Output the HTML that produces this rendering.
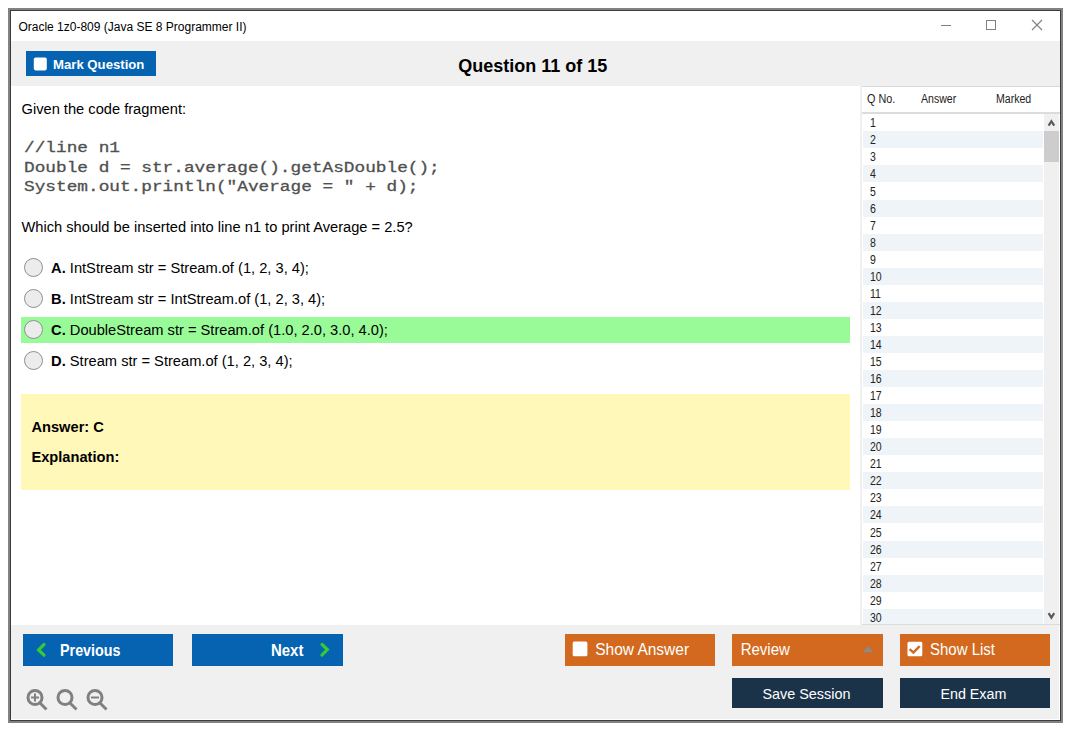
<!DOCTYPE html>
<html><head><meta charset="utf-8">
<style>
*{margin:0;padding:0;box-sizing:border-box}
html,body{width:1075px;height:735px;overflow:hidden;background:#fff;font-family:"Liberation Sans",sans-serif}
.a{position:absolute}
.t{position:absolute;white-space:pre;line-height:1}
</style></head><body>
<div class="a" style="left:8px;top:8px;width:1055px;height:715px;background:#828282;"></div>
<div class="a" style="left:10px;top:10px;width:1051px;height:711px;background:#3c3c3e;"></div>
<div class="a" style="left:11px;top:11px;width:1049px;height:709px;background:#fff;"></div>
<div class="t" style="left:18.40px;top:20.84px;font-size:12px;color:#000;font-weight:normal;font-family:'Liberation Sans',sans-serif;">Oracle 1z0-809 (Java SE 8 Programmer II)</div>
<div class="a" style="left:941px;top:25px;width:10px;height:1px;background:#808080;"></div>
<div class="a" style="left:986px;top:20px;width:10px;height:10px;border:1px solid #808080"></div>
<svg class="a" style="left:1031px;top:19px" width="12" height="12" viewBox="0 0 12 12"><path d="M1 1L11 11M11 1L1 11" stroke="#808080" stroke-width="1.1" fill="none"/></svg>
<div class="a" style="left:11px;top:41px;width:1049px;height:45px;background:#f0f0f0;"></div>
<div class="a" style="left:26px;top:51px;width:130px;height:25px;background:#0563b1;"></div>
<svg class="a" style="left:30px;top:53px" width="21" height="21"><rect x="3.8" y="4.4" width="13" height="13" rx="1.8" fill="#fff"/></svg>
<div class="t" style="left:52.60px;top:58.20px;font-size:13px;color:#fff;font-weight:bold;font-family:'Liberation Sans',sans-serif;transform:scale(1.012,1);transform-origin:0 11.00px;">Mark Question</div>
<div class="t" style="left:458.20px;top:56.66px;font-size:18px;color:#000;font-weight:bold;font-family:'Liberation Sans',sans-serif;">Question 11 of 15</div>
<div class="a" style="left:860px;top:86px;width:2px;height:539px;background:#f0f0f0;"></div>
<div class="t" style="left:21.50px;top:101.58px;font-size:14.67px;color:#000;font-weight:normal;font-family:'Liberation Sans',sans-serif;">Given the code fragment:</div>
<div class="t" style="left:24.00px;top:139.48px;font-size:17.77px;color:#505050;font-weight:normal;font-family:'Liberation Mono',monospace;transform:scaleY(0.8);transform-origin:0 13.62px;-webkit-text-stroke:0.35px #505050">//line n1</div>
<div class="t" style="left:24.00px;top:159.08px;font-size:17.77px;color:#505050;font-weight:normal;font-family:'Liberation Mono',monospace;transform:scaleY(0.8);transform-origin:0 13.62px;-webkit-text-stroke:0.35px #505050">Double d = str.average().getAsDouble();</div>
<div class="t" style="left:24.00px;top:178.08px;font-size:17.77px;color:#505050;font-weight:normal;font-family:'Liberation Mono',monospace;transform:scaleY(0.8);transform-origin:0 13.62px;-webkit-text-stroke:0.35px #505050">System.out.println(&quot;Average = &quot; + d);</div>
<div class="t" style="left:21.50px;top:219.58px;font-size:14.67px;color:#000;font-weight:normal;font-family:'Liberation Sans',sans-serif;">Which should be inserted into line n1 to print Average = 2.5?</div>
<div class="a" style="left:21px;top:317px;width:829px;height:26px;background:#98fb98;"></div>
<div class="a" style="left:24px;top:258px;width:19px;height:19px;border-radius:50%;border:1px solid #8f8f8f;background:#ececec"></div>
<div class="t" style="left:51.10px;top:260.98px;font-size:14.67px;color:#000;font-weight:normal;font-family:'Liberation Sans',sans-serif;"><b>A.</b> IntStream str = Stream.of (1, 2, 3, 4);</div>
<div class="a" style="left:24px;top:289px;width:19px;height:19px;border-radius:50%;border:1px solid #8f8f8f;background:#ececec"></div>
<div class="t" style="left:51.10px;top:291.98px;font-size:14.67px;color:#000;font-weight:normal;font-family:'Liberation Sans',sans-serif;"><b>B.</b> IntStream str = IntStream.of (1, 2, 3, 4);</div>
<div class="a" style="left:24px;top:320px;width:19px;height:19px;border-radius:50%;border:1px solid #8f8f8f;background:#ececec"></div>
<div class="t" style="left:51.10px;top:322.98px;font-size:14.67px;color:#000;font-weight:normal;font-family:'Liberation Sans',sans-serif;"><b>C.</b> DoubleStream str = Stream.of (1.0, 2.0, 3.0, 4.0);</div>
<div class="a" style="left:24px;top:351px;width:19px;height:19px;border-radius:50%;border:1px solid #8f8f8f;background:#ececec"></div>
<div class="t" style="left:51.10px;top:353.98px;font-size:14.67px;color:#000;font-weight:normal;font-family:'Liberation Sans',sans-serif;"><b>D.</b> Stream str = Stream.of (1, 2, 3, 4);</div>
<div class="a" style="left:21px;top:394px;width:829px;height:96px;background:#fff8b8;"></div>
<div class="t" style="left:31.40px;top:419.68px;font-size:14.67px;color:#000;font-weight:bold;font-family:'Liberation Sans',sans-serif;">Answer: C</div>
<div class="t" style="left:31.40px;top:449.78px;font-size:14.67px;color:#000;font-weight:bold;font-family:'Liberation Sans',sans-serif;">Explanation:</div>
<div class="a" style="left:862px;top:86px;width:198px;height:538px;background:#fff;"></div>
<div class="a" style="left:862px;top:86px;width:198px;height:1px;background:#d9d9d9;"></div>
<div class="a" style="left:862px;top:112px;width:198px;height:2px;background:#dcdcdc;"></div>
<div class="t" style="left:866.90px;top:93.04px;font-size:12px;color:#222;font-weight:normal;font-family:'Liberation Sans',sans-serif;transform:scaleX(0.9);transform-origin:left top">Q No.</div>
<div class="t" style="left:921.20px;top:93.04px;font-size:12px;color:#222;font-weight:normal;font-family:'Liberation Sans',sans-serif;transform:scaleX(0.88);transform-origin:left top">Answer</div>
<div class="t" style="left:995.80px;top:93.04px;font-size:12px;color:#222;font-weight:normal;font-family:'Liberation Sans',sans-serif;transform:scaleX(0.88);transform-origin:left top">Marked</div>
<div class="t" style="left:870.00px;top:116.30px;font-size:13px;color:#222;font-weight:normal;font-family:'Liberation Sans',sans-serif;transform:scale(0.81,1);transform-origin:0 11.00px;">1</div>
<div class="a" style="left:863px;top:131.35px;width:180px;height:17.05px;background:#eff4f9"></div>
<div class="t" style="left:870.00px;top:133.35px;font-size:13px;color:#222;font-weight:normal;font-family:'Liberation Sans',sans-serif;transform:scale(0.81,1);transform-origin:0 11.00px;">2</div>
<div class="t" style="left:870.00px;top:150.40px;font-size:13px;color:#222;font-weight:normal;font-family:'Liberation Sans',sans-serif;transform:scale(0.81,1);transform-origin:0 11.00px;">3</div>
<div class="a" style="left:863px;top:165.45px;width:180px;height:17.05px;background:#eff4f9"></div>
<div class="t" style="left:870.00px;top:167.45px;font-size:13px;color:#222;font-weight:normal;font-family:'Liberation Sans',sans-serif;transform:scale(0.81,1);transform-origin:0 11.00px;">4</div>
<div class="t" style="left:870.00px;top:184.50px;font-size:13px;color:#222;font-weight:normal;font-family:'Liberation Sans',sans-serif;transform:scale(0.81,1);transform-origin:0 11.00px;">5</div>
<div class="a" style="left:863px;top:199.55px;width:180px;height:17.05px;background:#eff4f9"></div>
<div class="t" style="left:870.00px;top:201.55px;font-size:13px;color:#222;font-weight:normal;font-family:'Liberation Sans',sans-serif;transform:scale(0.81,1);transform-origin:0 11.00px;">6</div>
<div class="t" style="left:870.00px;top:218.60px;font-size:13px;color:#222;font-weight:normal;font-family:'Liberation Sans',sans-serif;transform:scale(0.81,1);transform-origin:0 11.00px;">7</div>
<div class="a" style="left:863px;top:233.65px;width:180px;height:17.05px;background:#eff4f9"></div>
<div class="t" style="left:870.00px;top:235.65px;font-size:13px;color:#222;font-weight:normal;font-family:'Liberation Sans',sans-serif;transform:scale(0.81,1);transform-origin:0 11.00px;">8</div>
<div class="t" style="left:870.00px;top:252.70px;font-size:13px;color:#222;font-weight:normal;font-family:'Liberation Sans',sans-serif;transform:scale(0.81,1);transform-origin:0 11.00px;">9</div>
<div class="a" style="left:863px;top:267.75px;width:180px;height:17.05px;background:#eff4f9"></div>
<div class="t" style="left:870.00px;top:269.75px;font-size:13px;color:#222;font-weight:normal;font-family:'Liberation Sans',sans-serif;transform:scale(0.81,1);transform-origin:0 11.00px;">10</div>
<div class="t" style="left:870.00px;top:286.80px;font-size:13px;color:#222;font-weight:normal;font-family:'Liberation Sans',sans-serif;transform:scale(0.81,1);transform-origin:0 11.00px;">11</div>
<div class="a" style="left:863px;top:301.85px;width:180px;height:17.05px;background:#eff4f9"></div>
<div class="t" style="left:870.00px;top:303.85px;font-size:13px;color:#222;font-weight:normal;font-family:'Liberation Sans',sans-serif;transform:scale(0.81,1);transform-origin:0 11.00px;">12</div>
<div class="t" style="left:870.00px;top:320.90px;font-size:13px;color:#222;font-weight:normal;font-family:'Liberation Sans',sans-serif;transform:scale(0.81,1);transform-origin:0 11.00px;">13</div>
<div class="a" style="left:863px;top:335.95px;width:180px;height:17.05px;background:#eff4f9"></div>
<div class="t" style="left:870.00px;top:337.95px;font-size:13px;color:#222;font-weight:normal;font-family:'Liberation Sans',sans-serif;transform:scale(0.81,1);transform-origin:0 11.00px;">14</div>
<div class="t" style="left:870.00px;top:355.00px;font-size:13px;color:#222;font-weight:normal;font-family:'Liberation Sans',sans-serif;transform:scale(0.81,1);transform-origin:0 11.00px;">15</div>
<div class="a" style="left:863px;top:370.05px;width:180px;height:17.05px;background:#eff4f9"></div>
<div class="t" style="left:870.00px;top:372.05px;font-size:13px;color:#222;font-weight:normal;font-family:'Liberation Sans',sans-serif;transform:scale(0.81,1);transform-origin:0 11.00px;">16</div>
<div class="t" style="left:870.00px;top:389.10px;font-size:13px;color:#222;font-weight:normal;font-family:'Liberation Sans',sans-serif;transform:scale(0.81,1);transform-origin:0 11.00px;">17</div>
<div class="a" style="left:863px;top:404.15px;width:180px;height:17.05px;background:#eff4f9"></div>
<div class="t" style="left:870.00px;top:406.15px;font-size:13px;color:#222;font-weight:normal;font-family:'Liberation Sans',sans-serif;transform:scale(0.81,1);transform-origin:0 11.00px;">18</div>
<div class="t" style="left:870.00px;top:423.20px;font-size:13px;color:#222;font-weight:normal;font-family:'Liberation Sans',sans-serif;transform:scale(0.81,1);transform-origin:0 11.00px;">19</div>
<div class="a" style="left:863px;top:438.25px;width:180px;height:17.05px;background:#eff4f9"></div>
<div class="t" style="left:870.00px;top:440.25px;font-size:13px;color:#222;font-weight:normal;font-family:'Liberation Sans',sans-serif;transform:scale(0.81,1);transform-origin:0 11.00px;">20</div>
<div class="t" style="left:870.00px;top:457.30px;font-size:13px;color:#222;font-weight:normal;font-family:'Liberation Sans',sans-serif;transform:scale(0.81,1);transform-origin:0 11.00px;">21</div>
<div class="a" style="left:863px;top:472.35px;width:180px;height:17.05px;background:#eff4f9"></div>
<div class="t" style="left:870.00px;top:474.35px;font-size:13px;color:#222;font-weight:normal;font-family:'Liberation Sans',sans-serif;transform:scale(0.81,1);transform-origin:0 11.00px;">22</div>
<div class="t" style="left:870.00px;top:491.40px;font-size:13px;color:#222;font-weight:normal;font-family:'Liberation Sans',sans-serif;transform:scale(0.81,1);transform-origin:0 11.00px;">23</div>
<div class="a" style="left:863px;top:506.45px;width:180px;height:17.05px;background:#eff4f9"></div>
<div class="t" style="left:870.00px;top:508.45px;font-size:13px;color:#222;font-weight:normal;font-family:'Liberation Sans',sans-serif;transform:scale(0.81,1);transform-origin:0 11.00px;">24</div>
<div class="t" style="left:870.00px;top:525.50px;font-size:13px;color:#222;font-weight:normal;font-family:'Liberation Sans',sans-serif;transform:scale(0.81,1);transform-origin:0 11.00px;">25</div>
<div class="a" style="left:863px;top:540.55px;width:180px;height:17.05px;background:#eff4f9"></div>
<div class="t" style="left:870.00px;top:542.55px;font-size:13px;color:#222;font-weight:normal;font-family:'Liberation Sans',sans-serif;transform:scale(0.81,1);transform-origin:0 11.00px;">26</div>
<div class="t" style="left:870.00px;top:559.60px;font-size:13px;color:#222;font-weight:normal;font-family:'Liberation Sans',sans-serif;transform:scale(0.81,1);transform-origin:0 11.00px;">27</div>
<div class="a" style="left:863px;top:574.65px;width:180px;height:17.05px;background:#eff4f9"></div>
<div class="t" style="left:870.00px;top:576.65px;font-size:13px;color:#222;font-weight:normal;font-family:'Liberation Sans',sans-serif;transform:scale(0.81,1);transform-origin:0 11.00px;">28</div>
<div class="t" style="left:870.00px;top:593.70px;font-size:13px;color:#222;font-weight:normal;font-family:'Liberation Sans',sans-serif;transform:scale(0.81,1);transform-origin:0 11.00px;">29</div>
<div class="a" style="left:863px;top:608.75px;width:180px;height:17.05px;background:#eff4f9"></div>
<div class="t" style="left:870.00px;top:610.75px;font-size:13px;color:#222;font-weight:normal;font-family:'Liberation Sans',sans-serif;transform:scale(0.81,1);transform-origin:0 11.00px;">30</div>
<div class="a" style="left:862px;top:624px;width:198px;height:1px;background:#dcdcdc;"></div>
<div class="a" style="left:1044px;top:114px;width:15px;height:510px;background:#f0f0f0;"></div>
<div class="a" style="left:1044px;top:131px;width:15px;height:31px;background:#cdcdcd;"></div>
<svg class="a" style="left:1046px;top:117px" width="11" height="11" viewBox="0 0 11 11"><path d="M2.6 8.6L5.4 4.2L8.2 8.6" stroke="#5a5a5a" stroke-width="2.2" fill="none"/></svg>
<svg class="a" style="left:1046px;top:610px" width="11" height="11" viewBox="0 0 11 11"><path d="M2.6 3.2L5.4 7.6L8.2 3.2" stroke="#5a5a5a" stroke-width="2.2" fill="none"/></svg>
<div class="a" style="left:11px;top:625px;width:1048px;height:94px;background:#f0f0f0;"></div>
<div class="a" style="left:23px;top:634px;width:150px;height:32px;background:#0563b1;"></div>
<div class="a" style="left:192px;top:634px;width:151px;height:32px;background:#0563b1;"></div>
<div class="a" style="left:565px;top:634px;width:150px;height:32px;background:#d2691e;"></div>
<div class="a" style="left:732px;top:634px;width:151px;height:32px;background:#d2691e;"></div>
<div class="a" style="left:900px;top:634px;width:150px;height:32px;background:#d2691e;"></div>
<div class="a" style="left:732px;top:678px;width:151px;height:30px;background:#1b3349;"></div>
<div class="a" style="left:900px;top:678px;width:150px;height:30px;background:#1b3349;"></div>
<svg class="a" style="left:35px;top:642px" width="13" height="16" viewBox="0 0 13 16"><path d="M9 2.5L3.6 7.9L9 13.2" stroke="#33cc33" stroke-width="3.2" stroke-linecap="round" fill="none"/></svg>
<svg class="a" style="left:318px;top:642px" width="13" height="16" viewBox="0 0 13 16"><path d="M4.0 2.4L9.3 7.6L4.0 13.0" stroke="#33cc33" stroke-width="3.2" stroke-linecap="round" fill="none"/></svg>
<div class="t" style="left:59.80px;top:643.00px;font-size:15px;color:#fff;font-weight:bold;font-family:'Liberation Sans',sans-serif;transform:scale(0.955,1.1);transform-origin:0 12.70px;">Previous</div>
<div class="t" style="left:270.90px;top:643.00px;font-size:15px;color:#fff;font-weight:bold;font-family:'Liberation Sans',sans-serif;transform:scale(1,1.1);transform-origin:0 12.70px;">Next</div>
<svg class="a" style="left:570px;top:639px" width="20" height="20"><rect x="2.7" y="2.5" width="14.7" height="14.8" rx="1.5" fill="#fff"/></svg>
<div class="t" style="left:595.20px;top:641.98px;font-size:15.5px;color:#fff;font-weight:normal;font-family:'Liberation Sans',sans-serif;transform:scale(1,1.07);transform-origin:0 13.12px;">Show Answer</div>
<div class="t" style="left:740.70px;top:642.10px;font-size:15px;color:#fff;font-weight:normal;font-family:'Liberation Sans',sans-serif;transform:scale(1,1.07);transform-origin:0 12.70px;">Review</div>
<svg class="a" style="left:862px;top:645px" width="12" height="8" viewBox="0 0 12 8"><path d="M0.8 7.2L6 1.2L11.2 7.2Z" fill="#8a8a8a"/></svg>
<svg class="a" style="left:905px;top:639px" width="20" height="20"><rect x="2.5" y="2.7" width="14.8" height="14.6" rx="1.5" fill="#fff"/><path d="M4.6 10.2L8.4 13.6L14.6 7.1" stroke="#d2691e" stroke-width="2.4" fill="none"/></svg>
<div class="t" style="left:930.00px;top:642.30px;font-size:15px;color:#fff;font-weight:normal;font-family:'Liberation Sans',sans-serif;transform:scale(1,1.07);transform-origin:0 12.70px;">Show List</div>
<div class="t" style="left:762.40px;top:686.56px;font-size:14.4px;color:#fff;font-weight:normal;font-family:'Liberation Sans',sans-serif;transform:scale(1,1.07);transform-origin:0 12.19px;">Save Session</div>
<div class="t" style="left:940.40px;top:686.65px;font-size:14.3px;color:#fff;font-weight:normal;font-family:'Liberation Sans',sans-serif;transform:scale(1,1.07);transform-origin:0 12.10px;">End Exam</div>
<svg class="a" style="left:25px;top:687px" width="24" height="24" viewBox="0 0 24 24"><circle cx="10" cy="10.5" r="7" stroke="#808080" stroke-width="3" fill="none"/><path d="M15 16L21.5 22.5" stroke="#808080" stroke-width="3" fill="none"/><path d="M6 10.5H14" stroke="#808080" stroke-width="2" fill="none"/><path d="M10 6.5V14.5" stroke="#808080" stroke-width="2" fill="none"/></svg>
<svg class="a" style="left:55px;top:687px" width="24" height="24" viewBox="0 0 24 24"><circle cx="10" cy="10.5" r="7" stroke="#808080" stroke-width="3" fill="none"/><path d="M15 16L21.5 22.5" stroke="#808080" stroke-width="3" fill="none"/></svg>
<svg class="a" style="left:85px;top:687px" width="24" height="24" viewBox="0 0 24 24"><circle cx="10" cy="10.5" r="7" stroke="#808080" stroke-width="3" fill="none"/><path d="M15 16L21.5 22.5" stroke="#808080" stroke-width="3" fill="none"/><path d="M6 10.5H14" stroke="#808080" stroke-width="2" fill="none"/></svg>
</body></html>
